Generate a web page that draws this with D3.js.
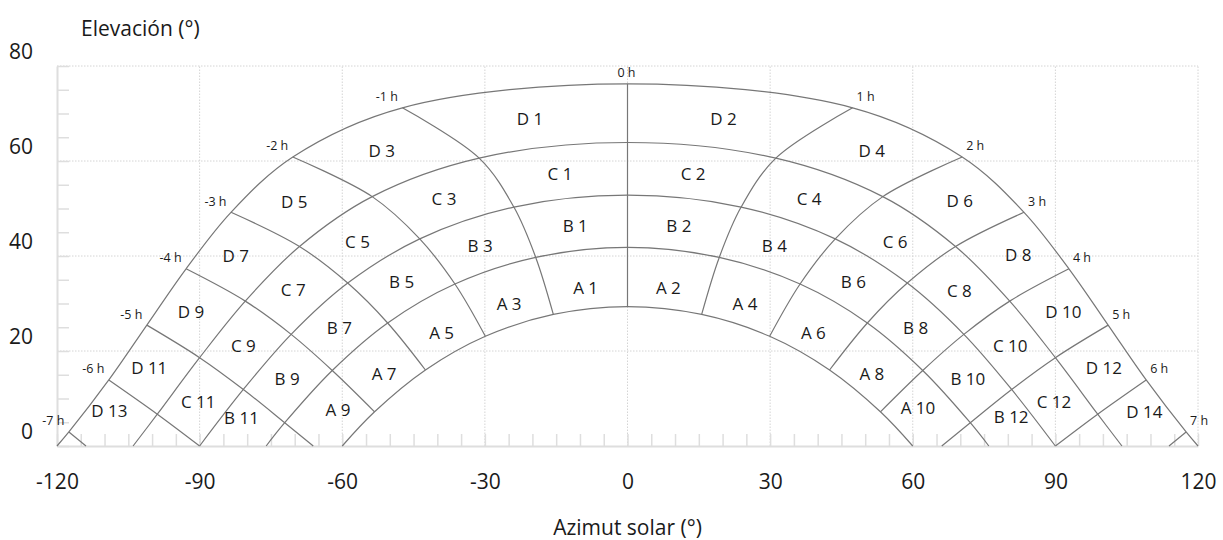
<!DOCTYPE html>
<html>
<head>
<meta charset="utf-8">
<style>
  body { margin: 0; background: #fff; font-family: 'Open Sans', sans-serif; }
  .grid line { stroke: #d4d4d4; stroke-width: 1; stroke-dasharray: 1.5,1.5; }
  .minor line { stroke: #dedede; stroke-width: 1.5; }
  .minor .domain { stroke: #dedede; stroke-width: 2; }
  .labels .domain { display: none; }
  .labels text { font-size: 21px; fill: #1a1a1a; font-family: 'Open Sans', sans-serif; }
  .sunpath { fill: none; stroke: #777; stroke-width: 1.2; }
  .zone { font-size: 17px; fill: #1a1a1a; }
  .hour { font-size: 12.5px; fill: #1a1a1a; }
  .title { font-size: 21px; fill: #1a1a1a; }
</style>
</head>
<body>
<svg width="1223" height="540"></svg>
<script src="https://d3js.org/d3.v7.min.js"></script>
<script>
// axis ticks
var xTicks = [-120, -90, -60, -30, 0, 30, 60, 90, 120];
var yTicks = [0, 20, 40, 60, 80];

// sun paths [azimut, elevación], from sunrise to sunset (outer = summer)
var pathD = [[-120.0, 0], [-117.5, 2.95], [-109.1, 13.9], [-101.1, 25.45], [-92.85, 37.3], [-83.4, 49.2], [-70.4, 60.85], [-47.35, 71.2], [0, 76.25],
             [47.35, 71.2], [70.4, 60.85], [83.4, 49.2], [92.85, 37.3], [101.1, 25.45], [109.1, 13.9], [117.5, 2.95], [120.0, 0]];
var pathC = [[-104.0, 0], [-98.9, 6.7], [-90.0, 18.6], [-80.4, 30.5], [-69.0, 42.0], [-53.7, 52.5], [-31.2, 60.6], [0, 63.9],
             [31.2, 60.6], [53.7, 52.5], [69.0, 42.0], [80.4, 30.5], [90.0, 18.6], [98.9, 6.7], [104.0, 0]];
var pathB = [[-90.0, 0], [-80.8, 11.9], [-70.75, 23.5], [-58.85, 34.3], [-43.7, 43.6], [-23.9, 50.3], [0, 52.8],
             [23.9, 50.3], [43.7, 43.6], [58.85, 34.3], [70.75, 23.5], [80.8, 11.9], [90.0, 0]];
var pathA = [[-76.0, 0], [-72.1, 4.9], [-62.1, 15.9], [-50.45, 25.9], [-36.3, 34.1], [-19.3, 39.7], [0, 41.8],
             [19.3, 39.7], [36.3, 34.1], [50.45, 25.9], [62.1, 15.9], [72.1, 4.9], [76.0, 0]];
var pathW = [[-60.0, 0], [-53.2, 7.2], [-42.5, 16.0], [-29.9, 23.1], [-15.6, 27.7], [0, 29.35],
             [15.6, 27.7], [29.9, 23.1], [42.5, 16.0], [53.2, 7.2], [60.0, 0]];

// hour lines, from the summer path downwards
var hourNames = ["-7 h", "-6 h", "-5 h", "-4 h", "-3 h", "-2 h", "-1 h", "0 h", "1 h", "2 h", "3 h", "4 h", "5 h", "6 h", "7 h"];
var hourLines = [
  [[-117.5, 2.95], [-113.9, 0]],
  [[-109.1, 13.9], [-98.9, 6.7], [-90.0, 0]],
  [[-101.1, 25.45], [-90.0, 18.6], [-80.8, 11.9], [-72.1, 4.9], [-66.1, 0]],
  [[-92.85, 37.3], [-80.4, 30.5], [-70.75, 23.5], [-62.1, 15.9], [-53.2, 7.2]],
  [[-83.4, 49.2], [-69.0, 42.0], [-58.85, 34.3], [-50.45, 25.9], [-42.5, 16.0]],
  [[-70.4, 60.85], [-53.7, 52.5], [-43.7, 43.6], [-36.3, 34.1], [-29.9, 23.1]],
  [[-47.35, 71.2], [-31.2, 60.6], [-23.9, 50.3], [-19.3, 39.7], [-15.6, 27.7]],
  [[0, 76.25], [0, 63.9], [0, 52.8], [0, 41.8], [0, 29.35]],
  [[47.35, 71.2], [31.2, 60.6], [23.9, 50.3], [19.3, 39.7], [15.6, 27.7]],
  [[70.4, 60.85], [53.7, 52.5], [43.7, 43.6], [36.3, 34.1], [29.9, 23.1]],
  [[83.4, 49.2], [69.0, 42.0], [58.85, 34.3], [50.45, 25.9], [42.5, 16.0]],
  [[92.85, 37.3], [80.4, 30.5], [70.75, 23.5], [62.1, 15.9], [53.2, 7.2]],
  [[101.1, 25.45], [90.0, 18.6], [80.8, 11.9], [72.1, 4.9], [66.1, 0]],
  [[109.1, 13.9], [98.9, 6.7], [90.0, 0]],
  [[117.5, 2.95], [113.9, 0]]
];

// zone labels
var zoneNames = ["D 1", "D 2", "D 3", "D 4", "D 5", "D 6", "D 7", "D 8", "D 9", "D 10", "D 11", "D 12", "D 13", "D 14",
                 "C 1", "C 2", "C 3", "C 4", "C 5", "C 6", "C 7", "C 8", "C 9", "C 10", "C 11", "C 12",
                 "B 1", "B 2", "B 3", "B 4", "B 5", "B 6", "B 7", "B 8", "B 9", "B 10", "B 11", "B 12",
                 "A 1", "A 2", "A 3", "A 4", "A 5", "A 6", "A 7", "A 8", "A 9", "A 10"];
var zoneAz = [-20.5, 20.2, -51.7, 51.4, -70.1, 69.9, -82.4, 82.2, -91.8, 91.7, -100.6, 100.2, -109.0, 108.7,
              -14.2, 13.8, -38.6, 38.2, -56.8, 56.3, -70.3, 69.8, -80.8, 80.5, -90.3, 89.7,
              -11.0, 10.8, -31.0, 30.9, -47.5, 47.5, -60.6, 60.6, -71.6, 71.6, -81.2, 80.7,
              -8.8, 8.6, -24.9, 24.7, -39.1, 39.1, -51.2, 51.4, -60.9, 61.1];
var zoneEl = [68.8, 68.8, 62.0, 62.0, 51.4, 51.6, 39.9, 40.1, 28.1, 28.3, 16.4, 16.5, 7.4, 7.2,
              57.2, 57.2, 51.9, 51.9, 43.0, 43.0, 32.8, 32.6, 21.1, 21.1, 9.3, 9.2,
              46.3, 46.3, 42.2, 42.2, 34.6, 34.6, 24.8, 24.8, 14.0, 14.0, 5.8, 6.0,
              33.2, 33.2, 29.8, 29.8, 23.7, 23.7, 15.2, 15.2, 7.6, 8.0];

var svg = d3.select("svg"),
    x = d3.scaleLinear().domain([-120, 120]).range([57, 1198]),
    y = d3.scaleLinear().domain([0, 80]).range([446, 66]);

// plain hyphen for negatives, like the original
var fmt = function(d) { return String(d); };

// dotted grid
var grid = svg.append("g").attr("class", "grid");
grid.selectAll(".gx").data(xTicks.slice(1)).enter().append("line")
    .attr("x1", function(d) { return x(d); }).attr("x2", function(d) { return x(d); })
    .attr("y1", y(0)).attr("y2", y(80));
grid.selectAll(".gy").data(yTicks.slice(1)).enter().append("line")
    .attr("x1", x(-120)).attr("x2", x(120))
    .attr("y1", function(d) { return y(d); }).attr("y2", function(d) { return y(d); });

// minor ticks every 5 degrees, pointing inwards
svg.append("g")
    .attr("class", "minor")
    .attr("transform", "translate(0," + y(0) + ")")
    .call(d3.axisBottom(x).tickValues(d3.range(-120, 121, 5)).tickSize(-12).tickSizeOuter(0).tickFormat(""));
svg.append("g")
    .attr("class", "minor")
    .attr("transform", "translate(" + x(-120) + ",0)")
    .call(d3.axisLeft(y).tickValues(d3.range(0, 81, 5)).tickSize(-12).tickSizeOuter(0).tickFormat(""));

// tick labels
svg.append("g")
    .attr("class", "labels")
    .attr("transform", "translate(0," + y(0) + ")")
    .call(d3.axisBottom(x).tickValues(xTicks).tickSize(0).tickPadding(28).tickFormat(fmt));
svg.append("g")
    .attr("class", "labels")
    .attr("transform", "translate(" + x(-120) + ",0)")
    .call(d3.axisLeft(y).tickValues(yTicks).tickSize(0).tickPadding(24).tickFormat(fmt))
  .selectAll("text")
    .attr("y", -14);

// sun paths and hour lines
var line = d3.line()
    .x(function(d) { return x(d[0]); })
    .y(function(d) { return y(d[1]); })
    .curve(d3.curveCatmullRom);

svg.append("g").selectAll("path")
    .data([pathD, pathC, pathB, pathA, pathW].concat(hourLines))
    .enter().append("path")
    .attr("class", "sunpath")
    .attr("d", line);

// hour labels at the summer path
svg.append("g").selectAll("text")
    .data(hourLines)
    .enter().append("text")
    .attr("class", "hour")
    .attr("x", function(d, i) { var h = i - 7; return x(d[0][0]) + (h < 0 ? -4.5 : h > 0 ? 4 : -1); })
    .attr("y", function(d) { return y(d[0][1]) - 6.5; })
    .attr("text-anchor", function(d, i) { var h = i - 7; return h < 0 ? "end" : h > 0 ? "start" : "middle"; })
    .text(function(d, i) { return hourNames[i]; });

// zone labels
svg.append("g").selectAll("text")
    .data(zoneNames)
    .enter().append("text")
    .attr("class", "zone")
    .attr("x", function(d, i) { return x(zoneAz[i]); })
    .attr("y", function(d, i) { return y(zoneEl[i]); })
    .attr("dy", "0.35em")
    .attr("text-anchor", "middle")
    .text(function(d) { return d; });

// axis titles
svg.append("text").attr("class", "title")
    .attr("x", 81).attr("y", 36)
    .text("Elevación (°)");
svg.append("text").attr("class", "title")
    .attr("x", x(0)).attr("y", 535)
    .attr("text-anchor", "middle")
    .text("Azimut solar (°)");
</script>
</body>
</html>
